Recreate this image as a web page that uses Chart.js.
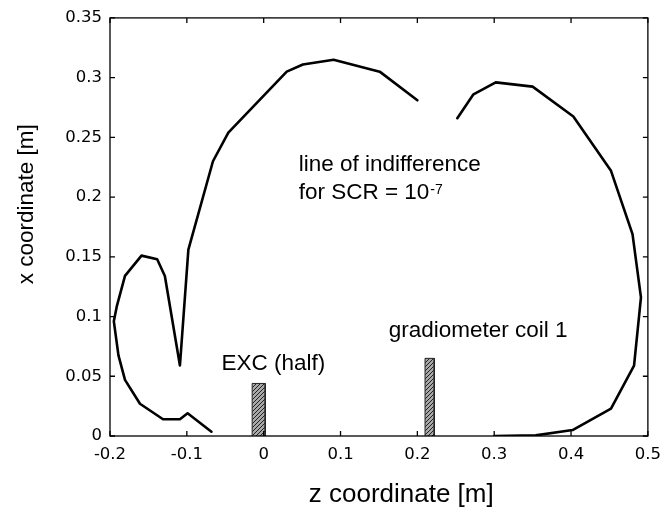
<!DOCTYPE html>
<html><head><meta charset="utf-8">
<script src="https://cdn.jsdelivr.net/npm/chart.js@4.4.0/dist/chart.umd.min.js"></script>
<style>html,body{margin:0;padding:0;background:#fff}#wrap{width:670px;height:508px}</style>
</head><body><div id="wrap"><canvas id="c" width="670" height="508"></canvas></div>
<script>
// ---- data ----
const leftCurveZ = [-0.068,-0.099,-0.109,-0.131,-0.161,-0.1805,-0.189,-0.195,-0.191,-0.1805,-0.159,-0.1386,-0.1286,-0.109,-0.098,-0.066,-0.046,0.030,0.051,0.091,0.151,0.200];
const leftCurveX = [0.0036,0.019,0.014,0.014,0.027,0.047,0.0675,0.096,0.109,0.134,0.151,0.148,0.134,0.059,0.156,0.230,0.254,0.305,0.311,0.315,0.305,0.281];
const rightCurveZ = [0.252,0.273,0.302,0.350,0.403,0.452,0.480,0.491,0.482,0.467,0.452,0.402,0.354,0.300];
const rightCurveX = [0.266,0.286,0.296,0.2925,0.2675,0.222,0.169,0.116,0.059,0.041,0.023,0.005,0.0005,0.0];
const excZ = [-0.015, 0.002];
const excHeight = 0.044;
const gradZ = [0.210, 0.222];
const gradHeight = 0.065;
const xTickValues = [-0.2,-0.1,0,0.1,0.2,0.3,0.4,0.5];
const xTickLabels = ['-0.2','-0.1','0','0.1','0.2','0.3','0.4','0.5'];
const yTickValues = [0,0.05,0.1,0.15,0.2,0.25,0.3,0.35];
const yTickLabels = ['0','0.05','0.1','0.15','0.2','0.25','0.3','0.35'];
const xTitle = 'z coordinate [m]';
const yTitle = 'x coordinate [m]';

// annotations (data coordinates of text baseline-left)
const notes = [
  {text:'line of indifference', z:0.0455, x:0.2217},
  {text:'for SCR = 10', sup:'-7', z:0.0455, x:0.1986},
  {text:'EXC (half)', z:-0.055, x:0.0556},
  {text:'gradiometer coil 1', z:0.1627, x:0.0825}
];

const toPts = (zs, xs) => zs.map((z,i)=>({x:z, y:xs[i]}));
const rectPts = (zr, h) => [{x:zr[0],y:0},{x:zr[0],y:h},{x:zr[1],y:h},{x:zr[1],y:0}];

// hatch pattern
function hatch(){
  const c = document.createElement('canvas'); c.width = 4; c.height = 4;
  const g = c.getContext('2d');
  g.fillStyle = '#a8a8a8'; g.fillRect(0,0,4,4);
  g.strokeStyle = '#222'; g.lineWidth = 1;
  g.beginPath(); g.moveTo(0,4); g.lineTo(4,0); g.moveTo(-1,1); g.lineTo(1,-1); g.moveTo(3,5); g.lineTo(5,3); g.stroke();
  return g.createPattern(c,'repeat');
}
const pat = hatch();

const boxPlugin = {
  id:'box',
  afterDatasetsDraw(chart){
    const {ctx, chartArea:a, scales} = chart;
    ctx.save();
    ctx.strokeStyle = '#000'; ctx.lineWidth = 1.3;
    ctx.strokeRect(a.left, a.top, a.right-a.left, a.bottom-a.top);
    ctx.beginPath();
    const L = 5;
    xTickValues.forEach(v=>{
      const p = scales.x.getPixelForValue(v);
      ctx.moveTo(p, a.bottom); ctx.lineTo(p, a.bottom-L);
      ctx.moveTo(p, a.top); ctx.lineTo(p, a.top+L);
    });
    yTickValues.forEach(v=>{
      const p = scales.y.getPixelForValue(v);
      ctx.moveTo(a.left, p); ctx.lineTo(a.left+L, p);
      ctx.moveTo(a.right, p); ctx.lineTo(a.right-L, p);
    });
    ctx.stroke();
    ctx.restore();
  },
  afterDraw(chart){
    const {ctx, scales} = chart;
    ctx.save();
    ctx.fillStyle = '#000';
    ctx.textBaseline = 'alphabetic';
    ctx.textAlign = 'left';
    const f = '22.5px "Liberation Sans", Arial, sans-serif';
    notes.forEach(n=>{
      const px = scales.x.getPixelForValue(n.z), py = scales.y.getPixelForValue(n.x);
      ctx.font = f;
      ctx.fillText(n.text, px, py);
      if(n.sup){
        const w = ctx.measureText(n.text).width;
        ctx.font = '14px "Liberation Sans", Arial, sans-serif';
        ctx.fillText(n.sup, px + w + 1, py - 5);
      }
    });
    // axis titles
    ctx.textAlign = 'center';
    ctx.font = '26px "Liberation Sans", Arial, sans-serif';
    ctx.fillText(xTitle, scales.x.getPixelForValue(0.179), 502);
    ctx.save();
    ctx.translate(33, scales.y.getPixelForValue(0.194));
    ctx.rotate(-Math.PI/2);
    ctx.font = '22.5px "Liberation Sans", Arial, sans-serif';
    ctx.fillText(yTitle, 0, 0);
    ctx.restore();
    ctx.restore();
  }
};

new Chart(document.getElementById('c'), {
  type:'scatter',
  data:{datasets:[
    {data: rectPts(excZ, excHeight), showLine:true, fill:'origin', backgroundColor:pat, borderColor:'#222', borderWidth:1, pointRadius:0, tension:0},
    {data: rectPts(gradZ, gradHeight), showLine:true, fill:'origin', backgroundColor:pat, borderColor:'#222', borderWidth:1, pointRadius:0, tension:0},
    {data: toPts(leftCurveZ, leftCurveX), showLine:true, fill:false, borderColor:'#000', borderWidth:2.6, pointRadius:0, tension:0, borderJoinStyle:'round', borderCapStyle:'round'},
    {data: toPts(rightCurveZ, rightCurveX), showLine:true, fill:false, borderColor:'#000', borderWidth:2.6, pointRadius:0, tension:0, borderJoinStyle:'round', borderCapStyle:'round'}
  ]},
  options:{
    responsive:false, animation:false, devicePixelRatio:1,
    layout:{padding:{top:16,right:21,left:0,bottom:0}},
    plugins:{legend:{display:false}, tooltip:{enabled:false}},
    scales:{
      x:{type:'linear', min:-0.2, max:0.5,
        afterBuildTicks:s=>{s.ticks = xTickValues.map(v=>({value:v}));},
        afterFit:s=>{s.height = 72;},
        grid:{display:false, drawTicks:false}, border:{display:false},
        ticks:{padding:9, color:'#000', font:{family:'"DejaVu Sans"', size:16.5}, maxRotation:0, autoSkip:false,
          callback:(v,i)=>xTickLabels[i]}
      },
      y:{type:'linear', min:0, max:0.35,
        afterBuildTicks:s=>{s.ticks = yTickValues.map(v=>({value:v}));},
        afterFit:s=>{s.width = 110;},
        grid:{display:false, drawTicks:false}, border:{display:false},
        ticks:{padding:8, color:'#000', font:{family:'"DejaVu Sans"', size:16.5}, autoSkip:false,
          callback:(v,i)=>yTickLabels[i]}
      }
    }
  },
  plugins:[boxPlugin]
});
</script></body></html>
